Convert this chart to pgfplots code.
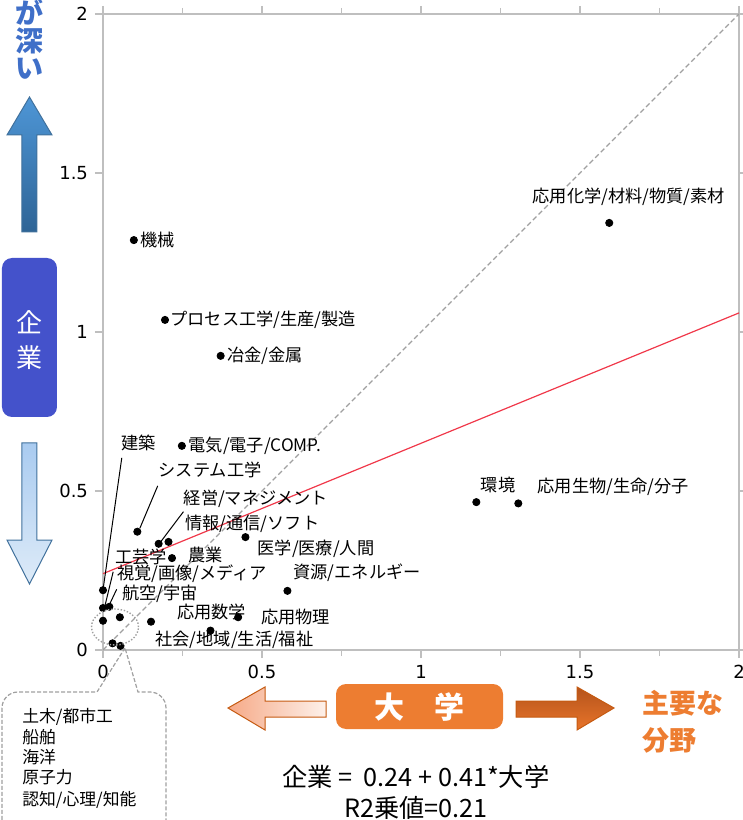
\documentclass[border=0pt]{standalone}
\usepackage{fontspec}
\setmainfont{Noto Sans CJK JP}
\newfontfamily\tickfont{DejaVu Sans}
\usepackage{pgfplots}
\pgfplotsset{compat=1.18}
\definecolor{axgray}{HTML}{BFBFBF}
\definecolor{dashgray}{HTML}{A0A0A0}
\definecolor{fitred}{HTML}{F0384A}
\definecolor{deepblue}{HTML}{3F6FC8}
\definecolor{boxblue}{HTML}{4452CB}
\definecolor{arrowline}{HTML}{41719C}
\definecolor{orangebox}{HTML}{ED7D31}
\definecolor{orangeline}{HTML}{C55A11}
\definecolor{upTop}{HTML}{4E96D6}
\definecolor{upBot}{HTML}{2E6496}
\definecolor{dnTop}{HTML}{A9CBF0}
\definecolor{dnBot}{HTML}{DEEBF8}
\definecolor{lfL}{HTML}{F6A987}
\definecolor{lfR}{HTML}{FDF1EA}
\definecolor{rtTop}{HTML}{B5541C}
\definecolor{rtBot}{HTML}{E8742A}

\newcommand\lab{\fontsize{8.6}{9}\selectfont}

\begin{document}
\begin{tikzpicture}
\useasboundingbox (-51.5pt,-85pt) rectangle (320pt,325pt);

\begin{axis}[
  at={(0,0)}, anchor=south west,
  scale only axis, width=318pt, height=318pt,
  xmin=0, xmax=2, ymin=0, ymax=2,
  axis line style={axgray, line width=0.8pt},
  xtick={0,0.5,1,1.5,2}, ytick={0,0.5,1,1.5,2},
  minor x tick num=1,
  tick style={axgray, line width=0.8pt},
  tick align=outside, major tick length=4pt, minor tick length=3pt,
  tick label style={font=\tickfont\fontsize{9}{10}\selectfont},
  /pgf/number format/assume math mode=true,
]
  % dashed diagonal y = x
  \addplot[dashgray, line width=0.7pt, dash pattern=on 2.5pt off 1.5pt] coordinates {(0,0) (2,2)};
  % linear fit
  \addplot[fitred, line width=0.6pt] coordinates {(0,0.24) (2,1.06)};
  \addplot[only marks, mark=*, mark size=1.8pt, black] coordinates {
    (1.592,1.343) (0.097,1.289) (0.195,1.038) (0.370,0.925) (0.248,0.642)
    (1.174,0.465) (1.306,0.461) (0.108,0.372) (0.175,0.334) (0.206,0.340)
    (0.448,0.355) (0.217,0.289) (0.580,0.186) (0.425,0.103) (0.151,0.089)
    (0.338,0.061) (0.000,0.188) (0.000,0.132) (0.020,0.136) (0.000,0.092)
    (0.053,0.103) (0.030,0.021) (0.055,0.013)
  };
\end{axis}

% point labels (1 unit = 159pt)
\begin{scope}[x=159pt, y=159pt, every node/.style={anchor=west, inner sep=0pt, font=\lab}]
  \node at (1.350,1.426) {応用化学/材料/物質/素材};
  \node at (0.117,1.289) {機械};
  \node at (0.211,1.038) {プロセス工学/生産/製造};
  \node at (0.390,0.925) {冶金/金属};
  \node at (0.268,0.642) {電気/電子/COMP.};
  \node at (0.056,0.650) {建築};
  \node at (0.174,0.566) {システム工学};
  \node at (0.253,0.477) {経営/マネジメント};
  \node at (0.258,0.396) {情報/通信/ソフト};
  \node at (0.485,0.317) {医学/医療/人間};
  \node at (0.268,0.299) {農業};
  \node at (0.038,0.293) {工芸学};
  \node at (0.043,0.241) {視覚/画像/メディア};
  \node at (0.598,0.243) {資源/エネルギー};
  \node at (0.059,0.178) {航空/宇宙};
  \node at (0.232,0.121) {応用数学};
  \node at (0.496,0.105) {応用物理};
  \node at (0.164,0.031) {社会/地域/生活/福祉};
  \node at (1.187,0.519) {環境};
  \node at (1.366,0.512) {応用生物/生命/分子};
  % leader lines
  \draw[black, line width=0.5pt] (0.059,0.604) -- (0,0.189);
  \draw[black, line width=0.5pt] (0.172,0.516) -- (0.116,0.383);
  \draw[black, line width=0.5pt] (0.253,0.435) -- (0.179,0.337);
  \draw[black, line width=0.5pt] (0.032,0.246) -- (0.003,0.126);
  \draw[black, line width=0.5pt] (0.043,0.191) -- (0.020,0.142);
\end{scope}

% cluster near origin and callout
\draw[dashgray, line width=0.7pt, dash pattern=on 0.7pt off 0.9pt] (6pt,11.5pt) ellipse (11.75pt and 9pt);
\draw[dashgray, line width=0.6pt, dash pattern=on 2pt off 1pt]
  (11pt,1pt) -- (-3pt,-21pt) [rounded corners=8pt] -- (-50.5pt,-21pt) -- (-50.5pt,-95pt)
  -- (31.5pt,-95pt) -- (31.5pt,-21pt) [sharp corners] -- (17.5pt,-21pt) -- cycle;
\begin{scope}[every node/.style={anchor=west, inner sep=0pt, font=\fontsize{8.4}{9}\selectfont}]
  \node at (-40.5pt,-33.5pt) {土木/都市工};
  \node at (-40.5pt,-43.5pt) {船舶};
  \node at (-40.5pt,-53.5pt) {海洋};
  \node at (-40.5pt,-63.5pt) {原子力};
  \node at (-40.5pt,-75pt) {認知/心理/知能};
\end{scope}

% left side: vertical label, arrows and box
\node[deepblue, font=\bfseries\fontsize{14}{14}\selectfont, inner sep=0pt] at (-36.5pt,319pt) {が};
\node[deepblue, font=\bfseries\fontsize{14}{14}\selectfont, inner sep=0pt] at (-36.5pt,304.5pt) {深};
\node[deepblue, font=\bfseries\fontsize{14}{14}\selectfont, inner sep=0pt] at (-36.5pt,290.5pt) {い};
\draw[arrowline, line width=0.5pt, top color=upTop, bottom color=upBot]
  (-36.75pt,276.5pt) -- (-48pt,257.5pt) -- (-40.5pt,257.5pt) -- (-40.5pt,209pt)
  -- (-33pt,209pt) -- (-33pt,257.5pt) -- (-25.5pt,257.5pt) -- cycle;
\fill[boxblue, rounded corners=5pt] (-50.5pt,116.5pt) rectangle (-23pt,196pt);
\node[white, font=\fontsize{13}{13}\selectfont, inner sep=0pt] at (-36.75pt,164pt) {企};
\node[white, font=\fontsize{13}{13}\selectfont, inner sep=0pt] at (-36.75pt,146pt) {業};
\draw[arrowline, line width=0.5pt, top color=dnTop, bottom color=dnBot]
  (-40.5pt,103.5pt) -- (-33pt,103.5pt) -- (-33pt,55pt) -- (-25.5pt,55pt)
  -- (-36.75pt,33pt) -- (-48pt,55pt) -- (-40.5pt,55pt) -- cycle;

% bottom: arrows, box and text
\draw[orangeline, line width=0.5pt, left color=lfL, right color=lfR]
  (62.5pt,-29pt) -- (81pt,-18.5pt) -- (81pt,-25.5pt) -- (111.5pt,-25.5pt)
  -- (111.5pt,-33.5pt) -- (81pt,-33.5pt) -- (81pt,-40pt) -- cycle;
\fill[orangebox, rounded corners=5pt] (116.5pt,-39.5pt) rectangle (200pt,-17pt);
\node[white, font=\bfseries\fontsize{15}{15}\selectfont, inner sep=0pt] at (158.25pt,-28.5pt) {大\hspace{1em}学};
\draw[orangeline, line width=0.5pt, top color=rtTop, bottom color=rtBot]
  (206.5pt,-25.5pt) -- (237pt,-25.5pt) -- (237pt,-18.5pt) -- (255.5pt,-29pt)
  -- (237pt,-40pt) -- (237pt,-33.5pt) -- (206.5pt,-33.5pt) -- cycle;
\node[orangebox, font=\bfseries\fontsize{13.5}{14}\selectfont, anchor=west, inner sep=0pt] at (269.5pt,-26.5pt) {主要な};
\node[orangebox, font=\bfseries\fontsize{13.5}{14}\selectfont, anchor=west, inner sep=0pt] at (269.5pt,-45pt) {分野};

\node[font=\fontsize{12.6}{13}\selectfont, inner sep=0pt] at (156.5pt,-63.5pt) {企業 =\ \ 0.24 + 0.41*大学};
\node[font=\fontsize{12.6}{13}\selectfont, inner sep=0pt] at (156.5pt,-78.8pt) {R2乗値=0.21};
\end{tikzpicture}
\end{document}
